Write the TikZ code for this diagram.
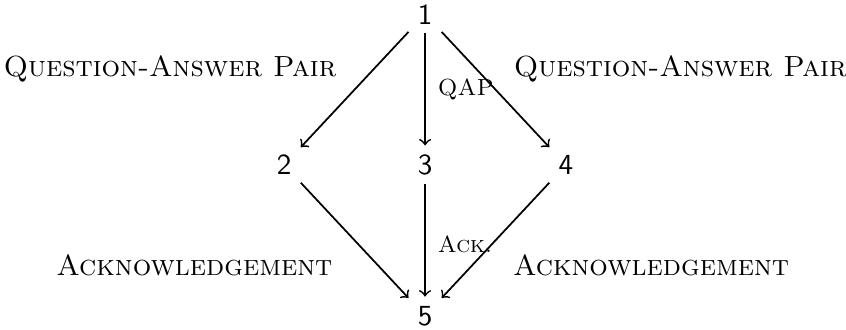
\documentclass[tikz,border=0pt]{standalone}
\usepackage{tikz}
\usetikzlibrary{positioning}

\begin{document}
\begin{tikzpicture}[
		x=1cm,
		y=1cm,
		>=to,
		num/.style={font=\sffamily, inner sep=3pt},
		flow/.style={->, semithick},
		rel/.style={font=\scshape, inner sep=0pt},
		tag/.style={font=\footnotesize\scshape, inner sep=0pt, anchor=base west}
	]
	
	% Fixed canvas
	\useasboundingbox (-5.13,-1.980) rectangle (5.08,1.991);
	
	% States
	\node[num] (n3) at (0,0) {3};
	\node[num] (n1) at (0,1.82) {1};
	\node[num] (n5) at (0,-1.82) {5};
	\node[num] (n2) at (-1.70,0) {2};
	\node[num] (n4) at (1.70,0) {4};
	
	% Edges
	\draw[flow] (n1) -- node[rel, midway, anchor=base east, xshift=-0.211cm, yshift=0.162cm] (qapl) {Question-Answer Pair} (n2);
	\draw[flow] (n1) -- node[tag, midway, xshift=0.145cm, yshift=-0.077cm] (qap) {QAP} (n3);
	\draw[flow] (n1) -- node[rel, midway, anchor=base west, xshift=0.211cm, yshift=0.162cm] (qapr) {Question-Answer Pair} (n4);
	\draw[flow] (n2) -- node[rel, midway, anchor=base east, xshift=-0.259cm, yshift=-0.427cm] (ackl) {Acknowledgement} (n5);
	\draw[flow] (n3) -- node[tag, midway, xshift=0.145cm, yshift=-0.140cm] (ack) {Ack.} (n5);
	\draw[flow] (n4) -- node[rel, midway, anchor=base west, xshift=0.201cm, yshift=-0.427cm] (ackr) {Acknowledgement} (n5);
	
\end{tikzpicture}
\end{document}
